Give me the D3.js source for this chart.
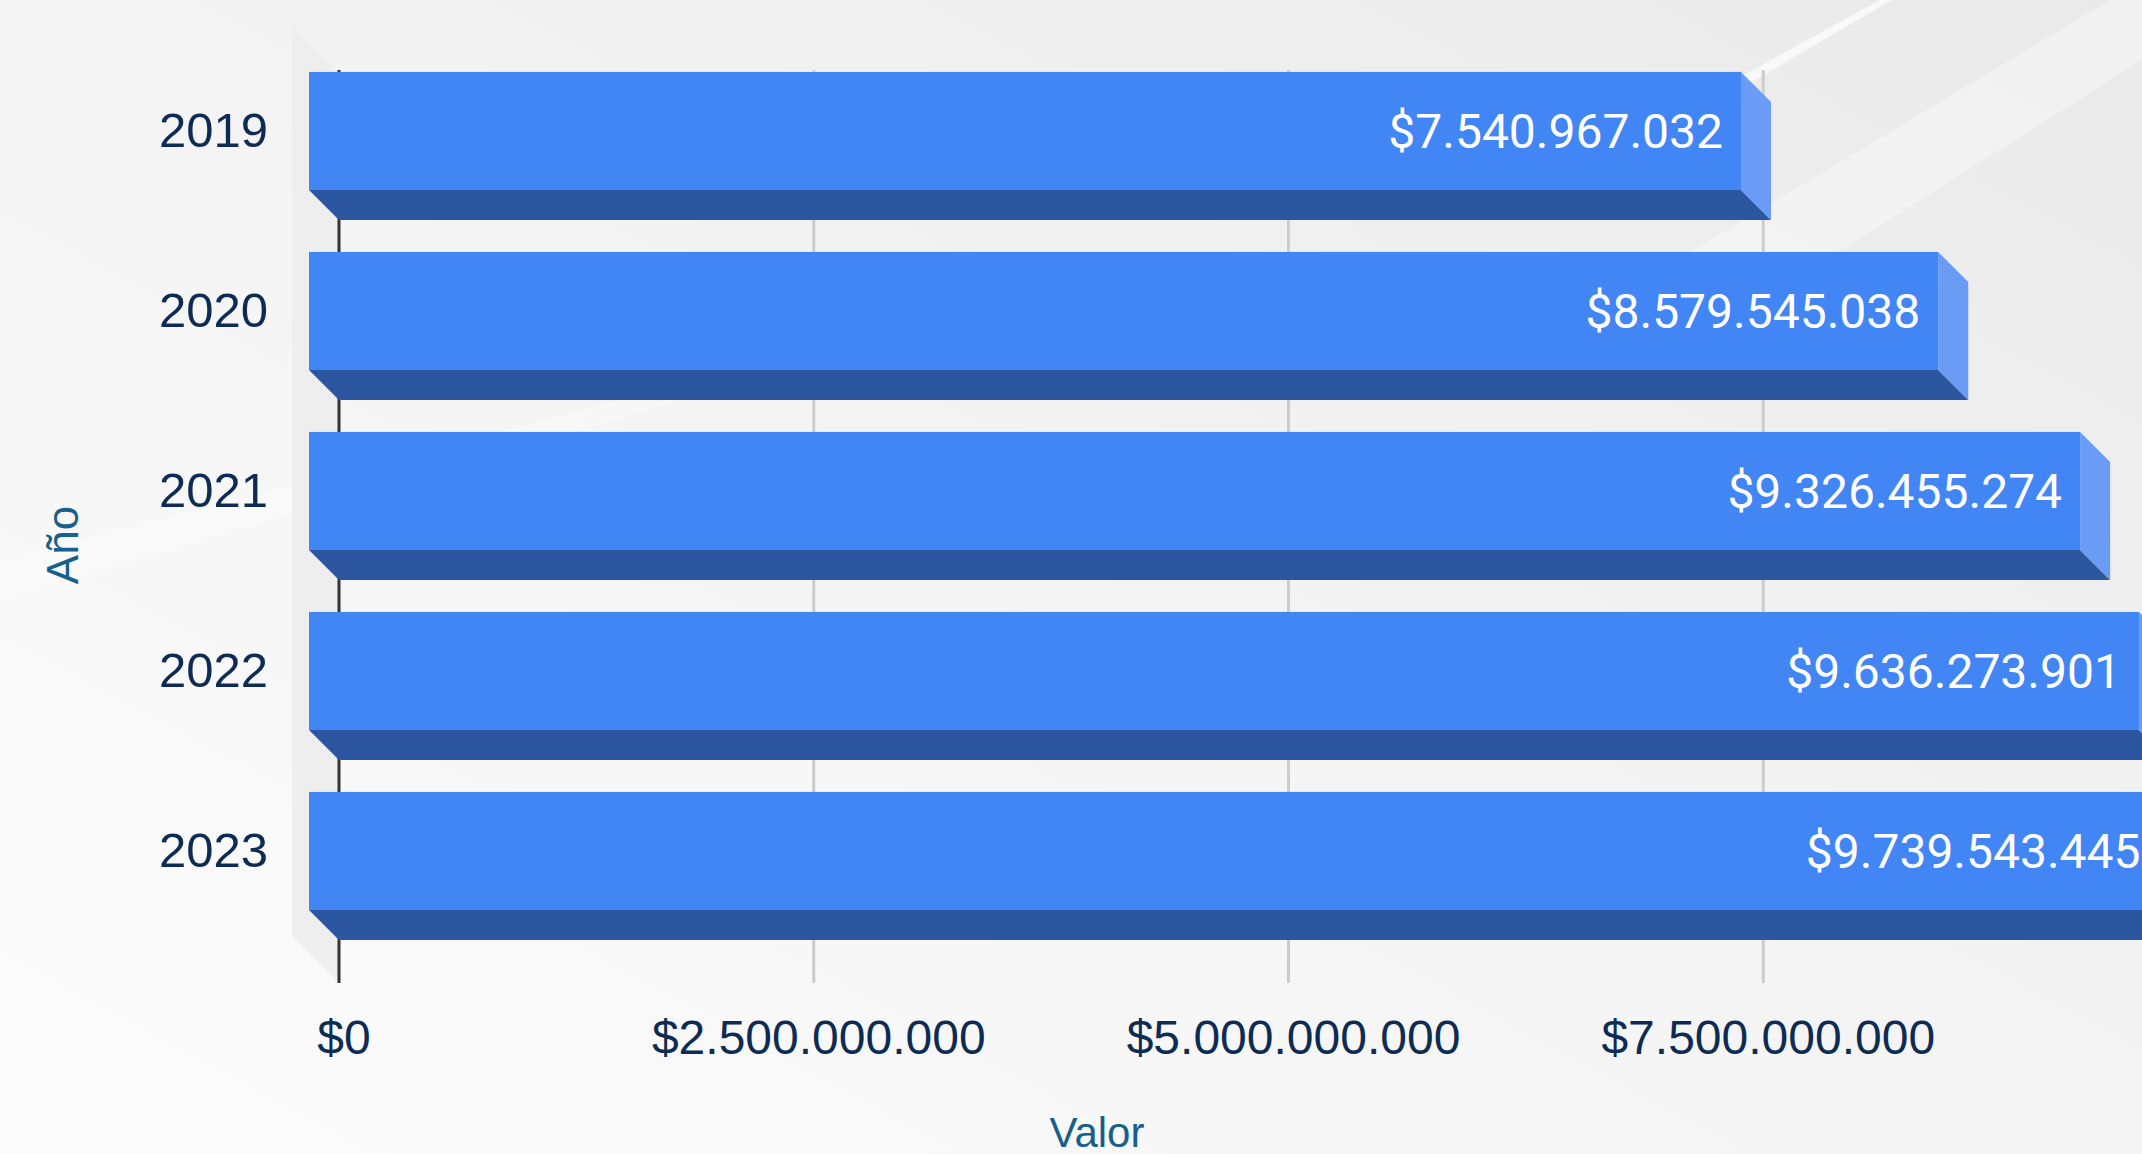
<!DOCTYPE html>
<html>
<head>
<meta charset="utf-8">
<script src="https://cdn.jsdelivr.net/npm/d3@7"></script>
<style>
  html, body { margin: 0; padding: 0; background: #f7f7f7; overflow: hidden; }
  svg { display: block; }
</style>
</head>
<body>
<div id="chart"></div>
<script>
// data
const years = ["2019", "2020", "2021", "2022", "2023"];
const values = [7540967032, 8579545038, 9326455274, 9636273901, 9739543445];
const tickValues = [0, 2500000000, 5000000000, 7500000000];

const W = 2142, H = 1154;
const depth = 30;      // 3d offset of the bars
const wallDepth = 47;  // 3d offset of the left wall

const locale = d3.formatLocale({decimal: ",", thousands: ".", grouping: [3], currency: ["$", ""]});
const fmt = locale.format("$,.0f");

const svg = d3.select("#chart").append("svg")
    .attr("width", W)
    .attr("height", H);

// background with soft diagonal light streaks
const defs = svg.append("defs");
const bg = defs.append("linearGradient").attr("id", "bg")
    .attr("x1", "100%").attr("y1", "0%").attr("x2", "0%").attr("y2", "100%");
bg.append("stop").attr("offset", "0%").attr("stop-color", "#e9e9e9");
bg.append("stop").attr("offset", "45%").attr("stop-color", "#f3f3f3");
bg.append("stop").attr("offset", "100%").attr("stop-color", "#fcfcfc");
svg.append("rect").attr("width", W).attr("height", H).attr("fill", "url(#bg)");

svg.append("path")
    .attr("d", "M1560,330 L2110,0 L2142,0 L2142,60 L1620,390 Z")
    .attr("fill", "#ffffff").attr("opacity", 0.35);
svg.append("path")
    .attr("d", "M1690,105 L1880,0 L1892,0 L1700,112 Z")
    .attr("fill", "#ffffff").attr("opacity", 0.7);
svg.append("path")
    .attr("d", "M0,560 L700,380 L700,395 L0,600 Z")
    .attr("fill", "#ffffff").attr("opacity", 0.3);

// scales
const x = d3.scaleLinear()
    .domain([0, 10000000000])
    .range([339, 339 + 1899]);

const y = d3.scaleBand()
    .domain(years)
    .range([41, 941])
    .paddingInner(0.344)
    .paddingOuter(0.172);

const plotTop = 72, plotBottom = 983;

// left wall
svg.append("path")
    .attr("d", `M${x(0) - wallDepth},${plotTop - wallDepth} L${x(0)},${plotTop} L${x(0)},${plotBottom} L${x(0) - wallDepth},${plotBottom - wallDepth} Z`)
    .attr("fill", "#eeeeee");

// grid lines
svg.append("g")
    .selectAll("line")
    .data(tickValues.filter(d => d > 0))
    .join("line")
        .attr("x1", d => x(d))
        .attr("x2", d => x(d))
        .attr("y1", plotTop - 2)
        .attr("y2", plotBottom)
        .attr("stroke", "#cccccc")
        .attr("stroke-width", 3);

// zero axis line
svg.append("line")
    .attr("x1", x(0)).attr("x2", x(0))
    .attr("y1", plotTop - 2).attr("y2", plotBottom)
    .attr("stroke", "#333333")
    .attr("stroke-width", 3);

// x tick labels
svg.append("g")
    .selectAll("text")
    .data(tickValues)
    .join("text")
        .attr("x", d => x(d) + 5)
        .attr("y", 1054)
        .attr("text-anchor", "middle")
        .attr("font-family", "'Liberation Sans', Arial, sans-serif")
        .attr("font-size", 48)
        .attr("fill", "#0d2b53")
        .text(d => fmt(d));

// y labels
svg.append("g")
    .selectAll("text")
    .data(years)
    .join("text")
        .attr("x", 268)
        .attr("y", d => y(d) + y.bandwidth() / 2 + 16)
        .attr("text-anchor", "end")
        .attr("font-family", "'Liberation Sans', Arial, sans-serif")
        .attr("font-size", 49)
        .attr("fill", "#0d2b53")
        .text(d => d);

// 3d bars
const bars = svg.append("g")
    .selectAll("g")
    .data(years.map((k, i) => ({key: k, value: values[i]})))
    .join("g");

// bottom face
bars.append("path")
    .attr("d", d => {
        const x0 = x(0) - depth, x1 = x(d.value) - depth, yb = y(d.key) + y.bandwidth();
        return `M${x0},${yb} L${x1},${yb} L${x1 + depth},${yb + depth} L${x0 + depth},${yb + depth} Z`;
    })
    .attr("fill", "#2c57a0");

// right face
bars.append("path")
    .attr("d", d => {
        const x1 = x(d.value) - depth, yt = y(d.key), yb = yt + y.bandwidth();
        return `M${x1},${yt} L${x1 + depth},${yt + depth} L${x1 + depth},${yb + depth} L${x1},${yb} Z`;
    })
    .attr("fill", "#6a9cf5");

// front face
bars.append("rect")
    .attr("x", x(0) - depth)
    .attr("y", d => y(d.key))
    .attr("width", d => x(d.value) - x(0))
    .attr("height", y.bandwidth())
    .attr("fill", "#4285f4");

// value labels
bars.append("text")
    .attr("x", d => x(d.value) - depth - 18)
    .attr("y", d => y(d.key) + y.bandwidth() / 2 + 17)
    .attr("text-anchor", "end")
    .attr("font-family", "Roboto, sans-serif")
    .attr("font-size", 48)
    .attr("fill", "#ffffff")
    .text(d => fmt(d.value));

// axis titles
svg.append("text")
    .attr("x", 1097)
    .attr("y", 1147)
    .attr("text-anchor", "middle")
    .attr("font-family", "'Liberation Sans', Arial, sans-serif")
    .attr("font-size", 42)
    .attr("fill", "#175f8c")
    .text("Valor");

svg.append("text")
    .attr("transform", "translate(78,545) rotate(-90)")
    .attr("text-anchor", "middle")
    .attr("font-family", "'Liberation Sans', Arial, sans-serif")
    .attr("font-size", 44)
    .attr("fill", "#175f8c")
    .text("Año");
</script>
</body>
</html>
